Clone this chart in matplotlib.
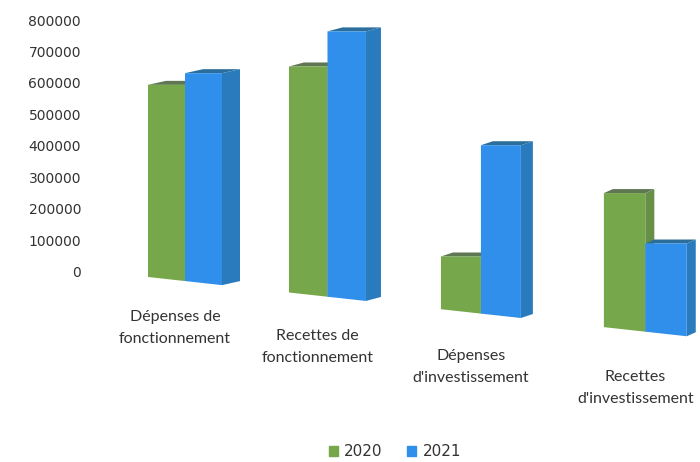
import numpy as np
import matplotlib
matplotlib.use('Agg')
import matplotlib.pyplot as plt
from matplotlib.patches import Patch

'''Data'''
categories = ["Dépenses de\nfonctionnement", "Recettes de\nfonctionnement",
              "Dépenses\nd'investissement", "Recettes\nd'investissement"]
values_2020 = [610000, 690000, 155000, 380000]
values_2021 = [660000, 810000, 495000, 250000]
years = ['2020', '2021']
yticks = np.arange(0, 800001, 100000)

#colours: front, side, top
green = ('#76a84b', '#678f47', '#5e7752')
blue = ('#2f8fea', '#2a7bbd', '#2b6e9c')
text_col = '#333333'

#pseudo 3d perspective (pixel based)
PX = 3175.0    # value units per pixel
UNIT = 137.0   # pixels per category step
bar_w = 37 / UNIT
x0 = -bar_w    # left edge of first bar

fig = plt.figure(figsize=(7, 4.62), dpi=100)
ax = fig.add_axes([95 / 700, 42 / 462, 605 / 700, 420 / 462])
ax.set_xlim((95 - 185) / UNIT, (700 - 185) / UNIT)
ax.set_ylim(-(420 - 272) * PX, 800000 + 20 * PX)


def floor(x):
    #the floor slopes down to the right
    return -5 * PX - 0.11 * UNIT * PX * (x - x0)


def draw_bar(x, w, h, dx, cols):
    bl, br = floor(x), floor(x + w)
    t = bl + h          # top edge kept level
    dy = 4 * PX
    front = [(x, bl), (x + w, br), (x + w, t), (x, t)]
    side = [(x + w, br), (x + w + dx, br + dy), (x + w + dx, t + dy), (x + w, t)]
    top = [(x, t), (x + w, t), (x + w + dx, t + dy), (x + dx, t + dy)]
    ax.fill(*zip(*side), color=cols[1], lw=0)
    ax.fill(*zip(*top), color=cols[2], lw=0)
    ax.fill(*zip(*front), color=cols[0], lw=0)


for i, cat in enumerate(categories):
    persp = 1 + 0.04 * i          # nearer bars look bigger
    pos = i * persp
    w = bar_w * persp
    dx = (18 - 3 * i) / UNIT
    draw_bar(pos - w, w, values_2020[i] * persp, dx, green)
    draw_bar(pos, w, values_2021[i] * persp, dx, blue)
    ax.text(pos - 10 / UNIT, floor(pos) - (29 + 3 * i) * PX, cat, ha='center', va='top',
            fontsize=11.5, family='Lato', color=text_col, linespacing=1.75)

ax.set_yticks(yticks)
ax.set_yticklabels([str(v) for v in yticks], family='DejaVu Sans', fontsize=10, color=text_col)
ax.set_xticks([])
ax.tick_params(axis='y', length=0, pad=10)
for s in ax.spines.values():
    s.set_visible(False)

handles = [Patch(color=green[0]), Patch(color=blue[0])]
fig.legend(handles, years, loc='center', bbox_to_anchor=(395 / 700, 1 - 452 / 462),
           ncol=2, frameon=False, handlelength=0.6, handleheight=0.6,
           handletextpad=0.4, columnspacing=1.6, prop={'family': 'DejaVu Sans', 'size': 11},
           labelcolor=text_col)

fig.savefig('out.png', dpi=100)
